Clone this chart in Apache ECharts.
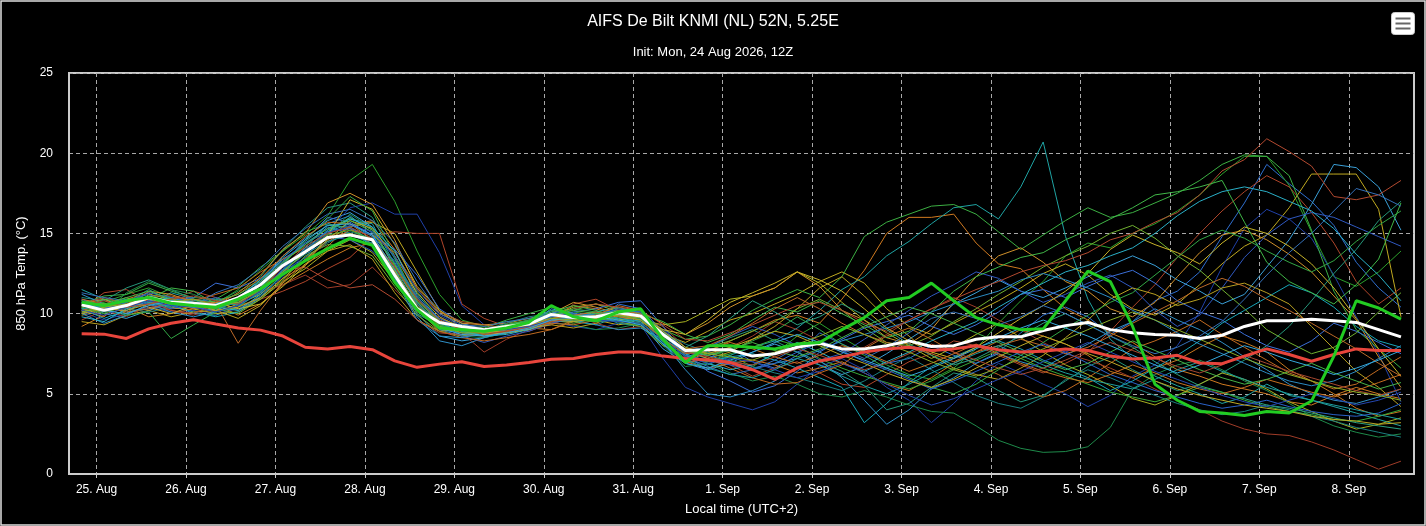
<!DOCTYPE html>
<html>
<head>
<meta charset="utf-8">
<title>AIFS De Bilt 850 hPa</title>
<script src="https://cdn.jsdelivr.net/npm/echarts@6.0.0/dist/echarts.min.js"></script>
<style>
  html, body { margin: 0; padding: 0; background: #000; }
  #main { width: 1426px; height: 526px; }
</style>
</head>
<body>
<div id="main"></div>
<script>
// 6-hourly steps, hours since 25 Aug 00:00 local time (first step 24 Aug 20:00)
var stepCount = 60;
var hours = [];
for (var s = 0; s < stepCount; s++) hours.push(-4 + 6 * s);

var dayTicks = [0, 24, 48, 72, 96, 120, 144, 168, 192, 216, 240, 264, 288, 312, 336];
var dayLabels = ['25. Aug', '26. Aug', '27. Aug', '28. Aug', '29. Aug', '30. Aug', '31. Aug',
  '1. Sep', '2. Sep', '3. Sep', '4. Sep', '5. Sep', '6. Sep', '7. Sep', '8. Sep'];

// ensemble mean (white)
var meanTemp = [
  10.55, 10.2, 10.5, 11.0, 10.7, 10.65, 10.5, 11.0, 11.8, 13.0,
  13.85, 14.75, 14.9, 14.6, 12.4, 10.3, 9.45, 9.2, 9.0, 9.2,
  9.35, 9.95, 9.75, 9.8, 10.05, 9.85, 8.7, 7.7, 7.75, 7.75,
  7.35, 7.5, 7.9, 8.15, 7.8, 7.8, 8.0, 8.3, 7.95, 8.0,
  8.4, 8.55, 8.55, 8.95, 9.25, 9.45, 9.0, 8.8, 8.7, 8.65,
  8.45, 8.65, 9.2, 9.55, 9.55, 9.65, 9.55, 9.45, 9.0, 8.55
];
// control run (green)
var controlTemp = [
  10.7, 10.5, 10.8, 11.0, 10.65, 10.5, 10.4, 10.9, 11.55, 12.45,
  13.3, 14.05, 14.7, 14.25, 11.95, 10.25, 9.1, 9.0, 8.9, 9.1,
  9.45, 10.5, 9.8, 9.55, 10.1, 10.3, 8.4, 6.95, 8.0, 8.0,
  7.9, 7.8, 8.1, 8.2, 9.0, 9.75, 10.8, 11.0, 11.9, 10.8,
  9.75, 9.3, 9.0, 9.05, 10.8, 12.65, 12.0, 9.2, 5.6, 4.6,
  3.9, 3.8, 3.65, 3.9, 3.8, 4.55, 7.35, 10.8, 10.35, 9.65
];
// red reference line
var climateTemp = [
  8.75, 8.72, 8.45, 9.05, 9.4, 9.62, 9.35, 9.1, 8.97, 8.6,
  7.9, 7.8, 7.95, 7.75, 7.05, 6.65, 6.85, 7.0, 6.7, 6.8,
  6.95, 7.15, 7.2, 7.45, 7.6, 7.6, 7.35, 7.2, 7.1, 6.95,
  6.5, 5.9, 6.6, 7.05, 7.3, 7.6, 7.8, 7.9, 7.7, 7.8,
  8.0, 7.75, 7.6, 7.65, 7.8, 7.7, 7.35, 7.17, 7.23, 7.4,
  6.92, 6.88, 7.35, 7.8, 7.45, 7.03, 7.45, 7.8, 7.7, 7.7
];

// ensemble members
var members = [
  [10.9, 10.4, 10.2, 10.8, 10.5, 10.9, 10.3, 10.7, 11.4, 12.6,
   13.5, 15.0, 16.0, 15.2, 13.5, 10.4, 9.0, 8.6, 8.9, 9.1,
   9.6, 10.2, 9.9, 9.6, 10.6, 10.3, 8.9, 7.6, 7.2, 7.9,
   7.0, 6.6, 7.4, 8.8, 8.1, 7.5, 6.9, 7.2, 8.0, 7.4,
   6.9, 7.6, 8.8, 9.9, 10.4, 9.8, 8.7, 9.5, 10.8, 11.4,
   12.6, 14.8, 16.9, 19.3, 18.1, 17.0, 15.5, 13.2, 11.6, 10.4],
  [10.2, 9.8, 10.9, 11.3, 10.4, 10.2, 10.8, 10.2, 11.0, 12.2,
   13.0, 14.2, 15.5, 15.8, 14.0, 11.0, 9.6, 9.0, 8.7, 9.0,
   9.2, 9.8, 10.5, 10.3, 9.9, 10.0, 8.5, 7.0, 7.6, 8.3,
   8.9, 9.6, 9.9, 9.4, 10.9, 12.7, 15.0, 16.0, 16.0, 16.2,
   14.4, 13.1, 12.8, 11.5, 10.3, 9.6, 8.8, 8.2, 7.3, 6.5,
   6.1, 5.6, 5.3, 5.0, 4.5, 4.3, 4.9, 5.4, 5.0, 4.7],
  [10.5, 10.7, 11.2, 11.6, 11.0, 10.8, 10.6, 11.5, 12.7, 13.9,
   14.9, 16.1, 18.3, 19.3, 17.0, 13.9, 11.2, 9.6, 9.2, 9.5,
   9.4, 9.9, 10.1, 9.9, 10.4, 10.0, 8.8, 7.3, 7.6, 7.4,
   6.7, 7.5, 8.6, 9.4, 8.5, 7.7, 6.8, 6.2, 5.9, 6.6,
   7.8, 9.4, 10.8, 12.0, 13.6, 14.4, 14.1, 15.0, 15.6, 16.4,
   17.4, 18.7, 19.8, 19.8, 18.0, 15.1, 12.3, 11.7, 12.6, 13.9],
  [11.5, 10.9, 10.4, 10.6, 11.3, 10.9, 10.7, 10.6, 11.6, 13.2,
   14.4, 15.3, 15.9, 15.6, 13.1, 10.6, 9.3, 8.9, 8.7, 8.9,
   9.1, 10.0, 9.5, 9.3, 9.8, 9.5, 8.1, 7.1, 6.8, 7.4,
   7.9, 8.3, 9.1, 10.2, 11.5, 12.3, 13.6, 14.5, 15.6, 16.6,
   16.8, 15.9, 17.9, 20.7, 14.8, 10.9, 8.4, 7.2, 6.1, 5.5,
   5.0, 4.4, 4.8, 5.6, 4.9, 4.6, 4.2, 3.8, 3.4, 3.0],
  [9.9, 10.2, 10.6, 10.9, 10.3, 10.4, 10.1, 10.6, 11.2, 12.4,
   13.3, 14.6, 15.4, 15.7, 15.0, 12.6, 10.2, 9.4, 8.9, 8.8,
   9.0, 9.4, 9.8, 9.6, 9.3, 9.5, 8.7, 8.2, 8.9, 9.6,
   10.0, 10.6, 11.2, 12.0, 12.6, 11.9, 10.3, 9.2, 8.7, 9.4,
   10.1, 10.8, 11.6, 12.5, 13.1, 12.4, 11.2, 10.3, 9.9, 10.6,
   11.8, 13.1, 14.2, 14.9, 16.6, 18.7, 18.7, 18.7, 16.5, 9.8],
  [10.3, 11.3, 11.5, 10.7, 10.9, 11.4, 11.0, 10.5, 10.9, 11.4,
   12.0, 12.8, 13.5, 14.8, 15.1, 15.0, 15.0, 10.6, 9.7, 9.2,
   8.9, 9.4, 10.6, 10.9, 10.2, 9.7, 9.2, 7.9, 7.3, 6.8,
   6.1, 6.6, 7.0, 6.3, 5.6, 5.4, 6.2, 7.0, 7.5, 8.3,
   8.0, 7.4, 6.8, 6.3, 6.9, 7.6, 8.9, 10.4, 11.8, 13.5,
   15.0, 16.4, 17.6, 18.6, 17.9, 16.3, 14.4, 12.0, 10.6, 11.6],
  [10.8, 10.0, 9.7, 10.2, 10.6, 10.0, 9.9, 10.4, 11.8, 13.6,
   14.7, 15.8, 16.3, 15.4, 12.8, 10.0, 8.6, 8.3, 8.5, 8.8,
   9.3, 10.3, 10.0, 9.6, 9.7, 9.4, 7.8, 6.9, 6.5, 6.9,
   7.6, 8.1, 7.6, 6.8, 6.2, 6.7, 7.5, 8.4, 9.3, 10.6,
   11.3, 12.1, 11.4, 11.0, 11.6, 12.3, 13.0, 13.6, 13.0, 12.1,
   11.4, 10.6, 11.2, 12.9, 14.6, 16.8, 19.3, 19.1, 17.9, 15.2],
  [10.1, 9.6, 10.0, 10.4, 10.1, 10.2, 10.0, 10.3, 11.1, 12.3,
   13.8, 15.2, 16.6, 16.9, 16.2, 16.2, 13.8, 10.5, 9.3, 9.0,
   9.1, 9.5, 9.2, 9.0, 9.4, 9.3, 7.2, 5.4, 4.8, 4.4,
   4.0, 4.5, 5.6, 6.7, 7.2, 6.5, 5.4, 4.6, 3.2, 4.4,
   5.8, 6.9, 6.3, 5.6, 5.0, 4.2, 4.9, 6.1, 6.8, 8.0,
   10.1, 12.9, 15.3, 16.5, 15.9, 14.7, 12.4, 9.8, 7.5, 4.5],
  [10.6, 11.1, 11.2, 11.9, 11.4, 11.0, 10.9, 11.7, 12.9, 13.9,
   15.1, 15.6, 15.3, 14.5, 12.1, 10.1, 9.4, 9.3, 9.1, 9.6,
   10.0, 10.4, 10.2, 10.6, 10.3, 10.0, 9.0, 8.4, 8.6, 9.3,
   10.2, 10.9, 11.5, 11.0, 12.3, 14.8, 15.7, 16.2, 16.7, 16.8,
   16.2, 15.1, 14.0, 14.9, 15.8, 16.6, 16.0, 16.3, 16.9, 17.5,
   18.3, 19.3, 19.9, 19.8, 18.6, 15.2, 11.4, 9.0, 7.8, 6.6],
  [9.2, 9.9, 10.4, 9.8, 10.0, 10.3, 10.6, 9.9, 10.6, 11.8,
   12.6, 13.4, 14.1, 14.4, 13.0, 10.6, 9.3, 8.8, 8.6, 8.9,
   9.1, 9.0, 9.5, 9.8, 10.1, 9.8, 8.3, 7.0, 6.6, 6.9,
   7.1, 6.8, 6.3, 6.6, 7.0, 6.3, 5.6, 5.2, 6.0, 6.9,
   7.6, 8.3, 9.0, 8.6, 8.1, 7.4, 6.4, 6.0, 6.6, 7.1,
   7.9, 8.6, 8.2, 7.6, 6.5, 5.8, 5.0, 4.1, 3.6, 3.9],
  [11.0, 10.8, 11.6, 12.1, 11.5, 10.9, 10.2, 10.8, 12.3, 14.0,
   15.4, 16.6, 16.9, 16.0, 13.4, 10.9, 9.5, 9.1, 8.8, 9.0,
   9.3, 9.7, 9.6, 9.9, 9.4, 9.2, 8.0, 7.4, 7.9, 8.5,
   9.0, 8.3, 7.6, 7.0, 6.4, 5.5, 4.0, 4.4, 5.4, 6.3,
   6.0, 5.2, 4.5, 4.9, 5.8, 6.7, 7.3, 6.5, 5.8, 5.2,
   5.6, 6.3, 7.1, 8.0, 9.2, 10.8, 12.5, 14.0, 15.8, 17.0],
  [10.4, 10.6, 10.0, 11.2, 10.9, 10.3, 10.0, 10.1, 10.9, 12.0,
   12.8, 13.9, 14.6, 13.8, 12.0, 10.4, 9.7, 9.2, 9.0, 9.3,
   9.5, 9.8, 10.4, 10.6, 10.1, 9.6, 9.3, 9.5, 10.2, 10.9,
   11.1, 11.6, 12.6, 11.9, 10.7, 9.6, 8.8, 8.0, 7.2, 7.9,
   8.7, 9.4, 8.5, 7.6, 6.8, 6.2, 5.5, 4.7, 4.3, 4.9,
   5.6, 6.3, 5.9, 5.3, 4.5, 3.9, 3.3, 2.8, 3.1, 3.5],
  [10.7, 10.3, 10.8, 11.0, 10.8, 11.0, 11.9, 11.6, 12.2, 13.1,
   14.6, 16.0, 15.7, 14.9, 14.0, 12.4, 10.3, 9.4, 9.0, 9.2,
   9.5, 9.8, 10.1, 10.3, 10.7, 10.8, 9.2, 7.5, 6.4, 5.8,
   5.1, 5.5, 6.4, 7.6, 8.4, 9.1, 9.5, 9.9, 9.2, 8.7,
   9.3, 10.1, 11.2, 11.5, 11.0, 11.7, 12.3, 12.7, 11.9, 10.8,
   10.1, 9.6, 8.7, 8.0, 7.6, 8.3, 9.4, 8.9, 8.2, 7.5],
  [10.3, 10.0, 11.3, 12.0, 11.5, 11.2, 10.7, 11.4, 12.1, 13.3,
   14.2, 15.0, 16.2, 15.3, 13.9, 11.4, 9.6, 8.6, 8.5, 8.8,
   9.0, 9.4, 9.3, 9.0, 9.1, 9.4, 8.0, 6.7, 6.9, 6.3,
   5.8, 6.1, 5.6, 5.0, 4.8, 5.2, 4.8, 4.3, 3.9, 3.8,
   3.0, 2.1, 1.6, 1.35, 1.4, 1.7, 2.9, 5.3, 6.2, 6.8,
   7.1, 6.5, 5.8, 5.2, 4.4, 3.6, 3.0, 2.6, 2.3, 2.5],
  [9.6, 10.2, 9.8, 10.5, 10.2, 9.9, 10.4, 10.8, 11.3, 11.8,
   12.4, 11.6, 11.8, 12.9, 11.5, 10.1, 9.8, 8.8, 7.6, 8.4,
   9.0, 9.3, 9.9, 9.4, 9.0, 9.2, 8.6, 7.7, 7.4, 7.9,
   8.6, 9.5, 9.0, 8.3, 7.6, 7.9, 8.7, 9.6, 10.3, 11.0,
   10.4, 9.6, 9.0, 8.2, 7.5, 7.1, 6.6, 6.0, 5.3, 4.6,
   4.0, 3.3, 2.8, 2.5, 2.4, 2.0, 1.5, 0.9, 0.3, 0.8],
  [10.6, 10.9, 10.3, 11.4, 11.2, 10.7, 10.5, 11.3, 12.4, 14.0,
   15.0, 16.9, 17.5, 16.8, 14.6, 11.5, 10.0, 9.4, 9.3, 9.4,
   9.7, 10.0, 10.7, 10.4, 10.0, 10.1, 9.4, 8.7, 9.4, 10.4,
   11.1, 11.6, 12.6, 11.7, 10.2, 9.6, 8.5, 8.1, 9.0, 10.7,
   12.3, 13.6, 14.1, 13.2, 12.0, 11.4, 10.3, 9.8, 10.7, 12.3,
   13.8, 14.9, 15.2, 14.6, 13.7, 12.6, 11.1, 9.6, 7.3, 5.4],
  [11.2, 10.6, 10.1, 10.3, 10.6, 10.4, 10.2, 10.9, 12.0, 13.4,
   14.3, 15.4, 15.0, 14.3, 12.3, 9.8, 8.3, 8.0, 8.5, 8.9,
   9.4, 10.1, 9.9, 10.0, 10.2, 9.9, 8.2, 6.5, 5.0, 4.8,
   5.2, 5.8, 6.7, 7.1, 6.0, 4.6, 3.1, 4.0, 5.3, 6.0,
   6.9, 7.5, 7.0, 6.6, 7.4, 8.1, 8.9, 9.5, 10.3, 9.6,
   9.0, 8.2, 7.3, 6.5, 5.6, 5.0, 4.6, 4.4, 4.8, 5.3],
  [10.0, 10.5, 11.0, 10.6, 10.9, 10.6, 10.3, 10.0, 10.9, 12.1,
   13.6, 14.3, 14.2, 13.6, 11.7, 9.9, 8.9, 8.6, 8.8, 9.0,
   9.2, 9.6, 9.4, 9.7, 9.5, 9.2, 8.0, 7.6, 7.9, 8.3,
   8.9, 9.5, 10.3, 10.9, 10.2, 9.1, 8.2, 8.0, 8.6, 9.5,
   10.3, 11.2, 12.0, 12.9, 13.6, 14.2, 15.0, 15.5, 14.7, 13.6,
   12.7, 11.5, 10.3, 9.0, 8.2, 7.5, 7.9, 8.8, 10.1, 11.3],
  [10.3, 9.7, 10.2, 10.7, 10.5, 10.1, 9.8, 10.1, 11.0, 12.5,
   13.9, 15.1, 15.6, 14.8, 12.6, 10.2, 9.0, 8.8, 8.7, 9.0,
   9.3, 9.7, 9.9, 10.1, 10.4, 10.0, 8.6, 7.5, 7.0, 7.3,
   7.5, 7.1, 6.6, 6.0, 5.4, 3.2, 4.4, 5.7, 6.7, 7.3,
   7.9, 8.3, 7.8, 7.1, 6.6, 6.0, 5.2, 5.8, 6.6, 7.4,
   8.3, 9.4, 10.2, 11.0, 11.8, 11.3, 10.4, 9.2, 8.3, 7.9],
  [10.9, 10.5, 10.9, 10.6, 10.3, 10.6, 11.0, 10.6, 11.5, 12.9,
   13.9, 14.8, 14.6, 13.9, 12.5, 10.6, 9.3, 8.6, 8.2, 8.6,
   8.9, 9.4, 9.7, 9.5, 9.6, 9.9, 9.0, 7.7, 7.9, 8.6,
   9.2, 8.7, 8.0, 7.1, 7.5, 8.4, 9.3, 10.2, 11.1, 11.8,
   12.6, 12.2, 11.4, 10.7, 11.2, 11.9, 12.4, 11.6, 10.2, 9.2,
   9.9, 11.6, 13.5, 14.9, 15.9, 16.3, 16.0, 15.4, 14.8, 14.2],
  [9.5, 9.3, 9.9, 10.2, 9.8, 10.1, 10.2, 9.7, 10.5, 11.9,
   13.1, 13.9, 14.3, 13.4, 11.3, 9.6, 8.9, 9.0, 8.9, 8.9,
   9.1, 9.3, 9.1, 9.4, 9.9, 9.7, 8.6, 7.7, 7.2, 7.6,
   8.4, 9.2, 10.3, 11.6, 12.3, 11.1, 9.7, 8.6, 7.4, 6.6,
   6.2, 5.9, 6.6, 7.4, 8.5, 9.6, 10.9, 11.6, 11.2, 10.5,
   10.9, 11.6, 11.9, 11.3, 10.6, 9.2, 7.8, 6.4, 5.4, 4.2],
  [10.4, 10.9, 10.7, 10.9, 11.6, 11.4, 10.6, 10.7, 11.4, 12.6,
   13.9, 15.1, 16.0, 15.2, 13.1, 10.9, 9.6, 9.0, 8.9, 9.3,
   9.6, 10.1, 10.5, 10.2, 9.8, 10.0, 9.5, 8.7, 8.2, 8.7,
   9.6, 10.4, 10.1, 10.8, 10.0, 9.3, 8.5, 8.9, 10.1, 11.4,
   12.3, 12.9, 13.5, 13.8, 14.6, 15.2, 15.9, 16.6, 17.4, 17.6,
   17.9, 18.3, 15.7, 13.2, 12.0, 11.3, 10.6, 11.8, 13.4, 16.9],
  [10.8, 10.2, 10.6, 11.1, 11.1, 10.8, 11.2, 11.6, 12.6, 13.4,
   14.1, 14.8, 15.3, 14.3, 12.6, 10.3, 8.9, 8.5, 8.3, 8.5,
   8.7, 9.0, 9.6, 9.9, 10.5, 10.2, 8.3, 6.9, 7.2, 6.6,
   6.0, 5.6, 5.7, 6.3, 6.8, 7.8, 8.6, 9.1, 8.4, 7.6,
   6.8, 6.2, 5.4, 4.8, 5.2, 6.0, 6.9, 7.8, 8.3, 8.9,
   9.6, 8.7, 7.9, 7.1, 6.3, 5.8, 5.3, 5.6, 6.5, 7.3],
  [10.0, 9.4, 9.9, 10.6, 10.1, 9.8, 10.1, 10.5, 11.3, 12.8,
   14.1, 15.6, 16.1, 15.0, 12.2, 9.6, 8.6, 8.5, 8.8, 9.1,
   9.0, 9.5, 9.6, 9.3, 9.0, 9.1, 8.4, 7.6, 7.4, 7.0,
   6.6, 6.9, 7.2, 7.7, 8.3, 8.7, 9.1, 9.5, 10.1, 10.6,
   11.0, 11.4, 12.1, 12.5, 12.1, 11.6, 11.0, 10.2, 9.6, 8.8,
   8.1, 7.5, 6.9, 6.3, 5.8, 5.5, 5.8, 6.4, 7.2, 8.0],
  [10.2, 10.6, 10.3, 10.1, 10.4, 10.9, 10.5, 10.2, 11.1, 12.4,
   13.5, 14.4, 15.1, 14.7, 13.3, 11.1, 9.4, 8.9, 9.0, 9.4,
   9.8, 10.0, 9.7, 9.5, 9.6, 9.7, 8.8, 8.1, 7.6, 7.1,
   6.7, 6.3, 6.0, 5.6, 5.2, 5.8, 6.6, 7.3, 6.5, 5.7,
   4.9, 4.4, 4.1, 4.8, 5.9, 6.5, 6.0, 5.4, 4.9, 4.4,
   4.0, 3.7, 3.9, 4.3, 4.0, 3.6, 3.3, 2.9, 2.6, 2.3],
  [10.6, 11.0, 10.6, 10.8, 10.2, 10.0, 10.6, 10.9, 11.6, 12.7,
   12.9, 12.1, 11.6, 11.8, 10.9, 9.6, 8.8, 8.7, 8.6, 8.9,
   9.1, 9.6, 10.3, 10.6, 10.4, 10.2, 9.3, 8.4, 8.3, 8.8,
   9.3, 9.9, 10.5, 10.7, 10.2, 9.4, 8.9, 9.6, 10.3, 10.9,
   11.5, 12.0, 12.6, 13.0, 13.3, 13.8, 14.6, 15.0, 15.7, 16.3,
   17.4, 18.9, 19.6, 20.9, 20.1, 19.2, 17.3, 17.1, 17.4, 18.3],
  [10.5, 10.1, 10.7, 11.5, 10.8, 10.3, 10.6, 10.6, 11.9, 13.1,
   14.5, 15.5, 15.4, 14.5, 12.2, 10.0, 9.2, 9.1, 9.0, 9.2,
   9.5, 10.2, 10.0, 9.8, 10.2, 10.1, 8.9, 7.9, 8.6, 9.7,
   10.8, 10.1, 9.3, 9.8, 10.6, 9.9, 9.0, 8.1, 7.4, 6.8,
   7.2, 7.9, 8.6, 9.4, 10.0, 9.3, 8.6, 7.9, 7.0, 6.2,
   5.5, 5.1, 4.7, 4.3, 4.1, 3.8, 3.5, 3.2, 3.0, 2.8],
  [10.1, 10.4, 10.8, 10.4, 10.0, 10.5, 10.7, 10.3, 10.6, 11.7,
   13.0, 14.9, 17.1, 16.5, 14.3, 11.7, 10.2, 9.1, 8.7, 8.8,
   9.0, 9.5, 9.8, 10.0, 9.6, 9.8, 9.0, 8.7, 9.6, 10.7,
   11.3, 11.9, 12.6, 12.1, 11.4, 10.3, 9.1, 8.3, 7.6, 7.2,
   7.9, 8.8, 9.7, 10.5, 11.4, 12.5, 14.0, 14.9, 14.3, 13.8,
   13.1, 14.4, 15.4, 15.0, 14.2, 13.1, 11.6, 9.7, 7.8, 6.1],
  [11.3, 11.0, 10.8, 11.2, 10.6, 10.5, 11.3, 11.8, 12.8, 14.2,
   15.3, 16.2, 16.5, 15.8, 14.4, 12.0, 10.0, 9.3, 9.2, 9.5,
   9.7, 9.9, 9.7, 10.0, 9.9, 9.6, 8.5, 7.3, 6.7, 6.2,
   6.5, 7.1, 7.9, 8.3, 7.8, 7.2, 7.9, 8.8, 9.7, 10.1,
   9.7, 9.3, 9.8, 10.5, 10.0, 9.3, 8.6, 8.0, 7.5, 7.9,
   8.6, 9.5, 10.9, 12.4, 13.8, 15.0, 16.4, 17.8, 17.4, 16.7],
  [10.7, 10.3, 9.9, 10.1, 8.45, 9.3, 10.1, 10.4, 11.4, 13.0,
   14.6, 15.9, 17.3, 16.4, 13.6, 10.7, 9.3, 8.9, 9.0, 9.3,
   9.6, 9.9, 10.3, 10.1, 9.6, 9.4, 8.5, 7.8, 7.4, 7.7,
   8.3, 8.9, 9.8, 9.0, 8.1, 7.4, 6.6, 6.0, 5.4, 5.0,
   5.6, 6.5, 7.4, 8.2, 9.1, 9.9, 10.7, 11.3, 12.4, 13.5,
   14.6, 15.2, 14.7, 13.9, 13.2, 12.6, 13.3, 14.5, 15.5, 16.4],
  [10.2, 10.5, 10.1, 10.3, 10.7, 10.9, 10.6, 8.15, 10.2, 12.0,
   13.3, 14.5, 15.2, 14.9, 13.8, 11.6, 10.1, 9.5, 9.3, 9.1,
   9.2, 9.4, 9.3, 9.6, 10.2, 10.0, 8.6, 7.8, 8.0, 8.6,
   9.4, 10.3, 11.0, 10.3, 9.4, 8.7, 8.2, 7.9, 7.5, 7.0,
   7.6, 8.0, 8.4, 8.0, 7.5, 7.9, 8.6, 9.4, 10.1, 10.8,
   11.6, 12.2, 11.7, 10.9, 10.2, 9.4, 8.6, 7.8, 6.9, 6.1],
  [9.8, 9.5, 10.3, 10.8, 11.0, 10.6, 10.4, 10.2, 11.2, 12.7,
   14.0, 15.2, 15.9, 15.4, 13.9, 11.2, 9.6, 8.9, 8.6, 8.7,
   9.0, 9.6, 9.5, 9.7, 9.5, 9.6, 8.8, 7.4, 6.9, 6.5,
   6.8, 7.5, 8.2, 7.6, 6.9, 6.4, 7.0, 7.6, 8.3, 8.9,
   9.5, 10.4, 11.2, 11.9, 12.6, 13.0, 13.6, 14.1, 15.0, 16.1,
   17.0, 17.6, 17.9, 17.6, 17.0, 16.4, 15.3, 13.7, 12.4, 10.8],
  [10.4, 10.0, 10.5, 11.1, 10.8, 10.5, 10.3, 10.8, 11.6, 12.9,
   14.0, 14.9, 15.2, 14.6, 12.5, 10.4, 9.3, 8.9, 8.8, 9.1,
   9.4, 9.8, 9.6, 9.5, 9.8, 9.7, 8.3, 7.2, 7.0, 7.5,
   7.9, 8.4, 8.0, 7.2, 6.6, 6.1, 5.7, 5.3, 5.8, 6.5,
   7.1, 7.7, 7.2, 6.6, 6.1, 5.6, 5.1, 4.8, 4.5, 4.9,
   5.4, 5.1, 4.6, 4.2, 3.9, 3.7, 3.4, 3.3, 3.6, 4.0],
  [10.6, 10.3, 10.7, 11.3, 11.0, 10.7, 10.4, 10.9, 11.9, 13.3,
   14.4, 15.1, 15.3, 14.9, 13.2, 11.0, 9.7, 9.1, 8.9, 9.1,
   9.3, 9.8, 10.0, 9.9, 10.3, 10.1, 8.7, 7.4, 7.1, 6.8,
   6.5, 6.9, 7.6, 8.2, 7.7, 7.0, 6.5, 5.9, 5.3, 5.8,
   6.4, 7.0, 7.6, 8.1, 7.6, 6.9, 6.2, 5.7, 5.2, 4.8,
   4.4, 4.1, 4.3, 4.6, 4.2, 3.9, 3.7, 3.6, 3.8, 4.4],
  [10.9, 10.6, 10.4, 10.9, 10.6, 10.3, 10.7, 11.2, 12.2, 13.6,
   14.8, 15.7, 15.6, 14.6, 12.9, 10.8, 9.5, 9.0, 8.8, 8.9,
   9.2, 9.7, 9.9, 10.1, 9.8, 9.6, 8.4, 7.5, 7.7, 8.2,
   7.8, 7.3, 6.9, 7.4, 8.0, 7.6, 7.0, 6.4, 6.9, 7.5,
   8.1, 7.5, 6.9, 6.4, 6.0, 5.7, 6.2, 6.8, 6.3, 5.7,
   5.3, 5.0, 5.4, 5.9, 5.5, 5.1, 4.8, 5.2, 5.7, 6.2],
  [10.3, 10.5, 10.9, 10.7, 10.4, 10.8, 10.9, 10.5, 11.3, 12.7,
   13.7, 14.5, 14.9, 14.4, 12.8, 10.7, 9.4, 8.9, 8.9, 9.2,
   9.5, 9.9, 9.8, 10.0, 9.7, 9.5, 8.2, 7.1, 6.6, 6.2,
   6.0, 6.5, 7.2, 6.8, 6.1, 5.5, 5.0, 5.6, 6.3, 6.9,
   7.5, 8.0, 7.4, 6.8, 6.3, 5.9, 5.6, 5.3, 5.9, 6.5,
   7.0, 6.4, 5.9, 5.4, 5.0, 4.6, 4.3, 4.0, 3.7, 3.4],
  [10.0, 10.3, 10.2, 10.6, 10.9, 10.6, 10.2, 10.4, 11.0, 12.2,
   13.4, 14.6, 15.8, 15.3, 13.6, 11.3, 9.8, 9.1, 8.8, 9.0,
   9.3, 9.6, 9.5, 9.7, 9.9, 9.8, 8.9, 7.9, 7.5, 7.9,
   8.4, 8.9, 8.6, 8.0, 7.4, 6.9, 6.3, 5.8, 5.4, 5.9,
   6.6, 7.3, 8.0, 8.6, 8.1, 7.5, 7.0, 6.4, 5.8, 5.3,
   4.9, 4.6, 4.3, 4.1, 3.9, 3.6, 3.4, 3.3, 3.1, 3.2],
  [10.8, 10.6, 11.0, 11.4, 10.9, 10.6, 10.8, 11.2, 12.0, 13.2,
   14.3, 15.3, 15.8, 15.1, 13.0, 10.8, 9.5, 9.1, 9.0, 9.3,
   9.5, 9.9, 10.2, 10.0, 10.1, 9.8, 8.8, 7.7, 7.4, 7.8,
   8.2, 7.7, 7.3, 7.8, 8.5, 9.2, 9.8, 10.4, 10.0, 9.4,
   8.8, 8.2, 7.6, 7.0, 6.5, 6.9, 7.6, 8.3, 7.7, 7.1,
   6.5, 6.0, 5.6, 5.9, 6.4, 6.9, 6.3, 5.8, 5.3, 5.7],
  [10.2, 9.9, 10.4, 10.8, 10.5, 10.4, 10.1, 10.5, 11.4, 12.8,
   14.0, 15.0, 15.5, 15.1, 13.6, 11.5, 9.9, 9.2, 8.9, 9.0,
   9.2, 9.6, 9.8, 9.6, 9.5, 9.4, 8.4, 7.3, 6.9, 7.2,
   7.0, 6.5, 6.0, 6.4, 6.9, 6.3, 5.6, 4.9, 4.3, 4.7,
   5.3, 5.9, 6.4, 7.0, 7.6, 8.2, 7.6, 7.0, 6.4, 5.9,
   5.4, 4.9, 4.5, 4.2, 4.6, 5.0, 4.7, 4.3, 4.6, 5.1],
  [10.5, 10.8, 10.4, 10.6, 10.9, 11.1, 10.8, 10.6, 11.5, 12.9,
   14.2, 15.0, 15.4, 14.7, 12.9, 10.9, 9.6, 9.0, 8.7, 8.9,
   9.1, 9.5, 9.7, 9.9, 10.0, 9.8, 8.7, 7.6, 7.3, 7.0,
   6.8, 7.3, 7.8, 7.4, 6.9, 6.5, 6.9, 7.5, 8.1, 7.6,
   7.1, 6.6, 6.2, 6.6, 7.1, 7.7, 8.2, 7.7, 7.2, 6.7,
   6.3, 6.8, 7.4, 6.9, 6.4, 6.0, 5.6, 5.2, 4.9, 5.3],
  [10.7, 10.2, 10.0, 10.5, 10.8, 10.4, 10.6, 11.0, 12.1, 13.5,
   14.6, 15.5, 15.6, 14.9, 12.7, 10.4, 9.1, 8.7, 8.6, 8.8,
   9.1, 9.6, 9.7, 9.8, 9.6, 9.3, 8.1, 6.9, 6.6, 7.1,
   7.6, 8.2, 8.7, 8.2, 7.6, 7.1, 6.6, 6.1, 6.6, 7.2,
   7.8, 8.5, 9.1, 9.6, 9.1, 8.6, 8.0, 7.4, 6.8, 6.3,
   6.8, 7.4, 8.0, 7.6, 7.1, 6.7, 6.2, 6.6, 7.1, 7.7],
  [10.1, 10.4, 10.6, 11.0, 10.7, 10.9, 10.5, 10.7, 11.5, 12.6,
   13.8, 14.7, 15.0, 14.6, 12.7, 10.5, 9.2, 8.8, 8.8, 9.1,
   9.4, 9.7, 9.6, 9.9, 9.9, 9.6, 8.6, 7.8, 7.5, 7.3,
   7.1, 7.6, 8.1, 8.6, 9.2, 8.7, 8.1, 7.6, 7.0, 6.5,
   6.1, 6.6, 7.2, 7.8, 8.4, 9.0, 9.6, 10.1, 9.6, 9.0,
   8.4, 7.8, 7.2, 6.7, 6.2, 5.8, 5.4, 5.1, 4.9, 4.6]
];

var memberColors = ['#2f6fd0', '#d07a20', '#2ca02c', '#1fa3a3', '#c0aa20', '#b0452a', '#3aa0d8', '#2040a8',
  '#3cb043', '#c8781e', '#25967a', '#a8b020', '#3b6fd8', '#1e8a4a', '#a03c28', '#d0902a',
  '#3090c8', '#70b030', '#17a6b8', '#2f58c0', '#b8a020', '#40b848', '#c06a20', '#2b8cc4',
  '#1b7f7f', '#b44a30', '#2aa080', '#c8b428', '#3470b8', '#33a845', '#bd6a28', '#2ab0c8',
  '#38a838', '#2a62c8', '#c87020', '#1d9e9e', '#bca826', '#47b347', '#2446b0', '#a84830',
  '#35a8dc', '#8aae28'];

function pairs(vals) {
  var out = [];
  for (var i = 0; i < vals.length; i++) out.push([hours[i], vals[i]]);
  return out;
}

var series = [];
members.forEach(function (m, k) {
  series.push({
    name: 'member ' + (k + 1),
    type: 'line',
    data: pairs(m),
    symbol: 'none',
    silent: true,
    z: 2,
    lineStyle: { width: 1, color: memberColors[k % memberColors.length] }
  });
});
series.push({ name: 'climate', type: 'line', data: pairs(climateTemp), symbol: 'none', z: 3,
  lineStyle: { width: 3, color: '#e8453c' } });
series.push({ name: 'mean', type: 'line', data: pairs(meanTemp), symbol: 'none', z: 4,
  lineStyle: { width: 3, color: '#ffffff' } });
series.push({ name: 'control', type: 'line', data: pairs(controlTemp), symbol: 'none', z: 5,
  lineStyle: { width: 3, color: '#22cc22' } });

var font = 'Liberation Sans, Arial, sans-serif';
var gridDash = { color: '#a8a8a8', width: 1, type: [4, 3] };

var myChart = echarts.init(document.getElementById('main'));
myChart.setOption({
  backgroundColor: '#000',
  animation: false,
  title: [
    { text: 'AIFS De Bilt KNMI (NL) 52N, 5.25E', left: 'center', top: 9,
      textStyle: { color: '#fff', fontSize: 16, fontWeight: 'normal', fontFamily: font } },
    { text: 'Init: Mon, 24 Aug 2026, 12Z', left: 'center', top: 41,
      textStyle: { color: '#fff', fontSize: 13, fontWeight: 'normal', fontFamily: font } }
  ],
  grid: { left: 69, right: 12, top: 73, bottom: 52, show: true, borderColor: '#cccccc', borderWidth: 2 },
  xAxis: {
    type: 'value',
    min: -7.4,
    max: 353.5,
    name: 'Local time (UTC+2)',
    nameLocation: 'middle',
    nameGap: 29,
    nameTextStyle: { color: '#fff', fontSize: 13, fontFamily: font },
    axisLine: { show: true, lineStyle: { color: '#cccccc', width: 2 } },
    axisTick: { show: true, length: 4, customValues: dayTicks, lineStyle: { color: '#cccccc' } },
    axisLabel: {
      customValues: dayTicks, color: '#fff', fontSize: 12, fontFamily: font, margin: 10,
      formatter: function (v) {
        var k = dayTicks.indexOf(v);
        return k >= 0 ? dayLabels[k] : '';
      }
    },
    splitLine: { show: true, lineStyle: gridDash }
  },
  yAxis: {
    type: 'value',
    min: 0,
    max: 25,
    interval: 5,
    name: '850 hPa Temp. (°C)',
    nameLocation: 'middle',
    nameGap: 41,
    nameTextStyle: { color: '#fff', fontSize: 13, fontFamily: font },
    axisLine: { show: true, onZero: false, lineStyle: { color: '#cccccc', width: 2 } },
    axisTick: { show: false },
    axisLabel: { color: '#fff', fontSize: 12, fontFamily: font, margin: 16 },
    splitLine: { show: true, lineStyle: gridDash }
  },
  graphic: [
    { type: 'rect', shape: { x: 1, y: 1, width: 1424, height: 524 }, silent: true,
      style: { fill: 'none', stroke: '#e0e0e0', lineWidth: 1.5 } },
    { type: 'group', left: 1391, top: 12, children: [
      { type: 'rect', shape: { x: 0, y: 0, width: 23, height: 22, r: 3 },
        style: { fill: '#fff', stroke: '#ccc', lineWidth: 1 } },
      { type: 'rect', shape: { x: 4, y: 5, width: 15, height: 2 }, style: { fill: '#666' } },
      { type: 'rect', shape: { x: 4, y: 10, width: 15, height: 2 }, style: { fill: '#666' } },
      { type: 'rect', shape: { x: 4, y: 15, width: 15, height: 2 }, style: { fill: '#666' } }
    ] }
  ],
  series: series
});
</script>
</body>
</html>
